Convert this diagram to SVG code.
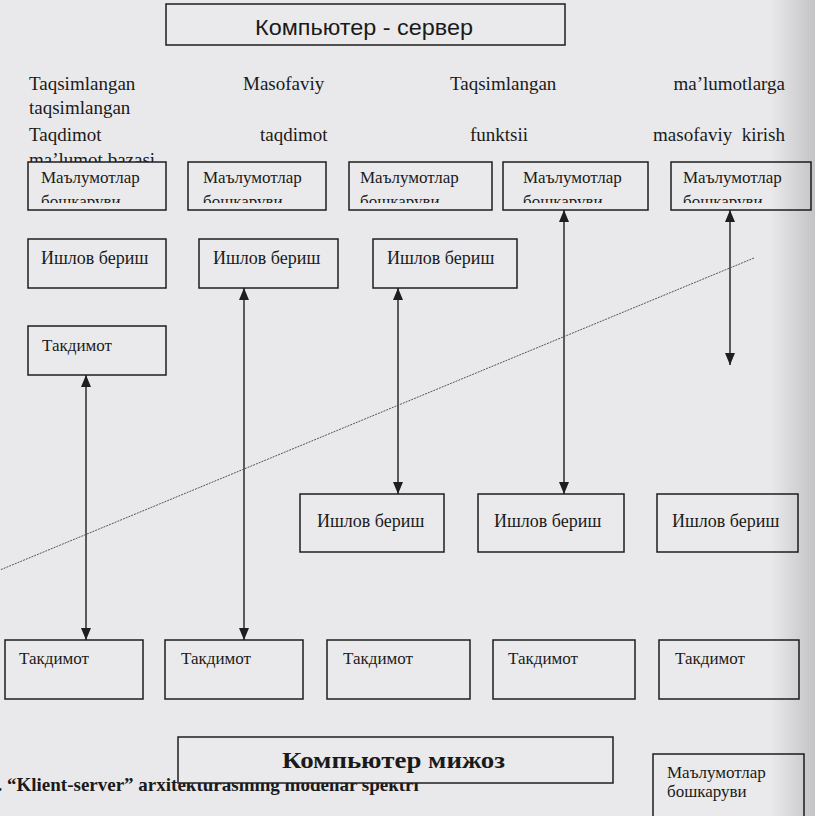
<svg xmlns="http://www.w3.org/2000/svg" width="815" height="816" viewBox="0 0 815 816">
<style>
.bg{fill:#e9e9eb}
.box{fill:#eaeaec;stroke:#1e1e1e;stroke-width:1.5}
.t{font-family:"Liberation Serif","Times New Roman",serif;fill:#1a1a1a}
.top{font-size:19px}
.lbl{font-size:17px}
.lb2{font-size:18px}
.conn{stroke:#1e1e1e;stroke-width:1.4;fill:none}
.diag{stroke:#555;stroke-width:1;stroke-dasharray:2 1;fill:none}
</style>
<defs>
<marker id="ah" viewBox="0 0 12 10" markerUnits="userSpaceOnUse" markerWidth="12" markerHeight="10" refX="12" refY="5" orient="auto-start-reverse">
<path d="M0,0 L12,5 L0,10 z" fill="#1e1e1e"/>
</marker>
<clipPath id="clipTop" clipPathUnits="userSpaceOnUse"><rect x="0" y="150" width="815" height="53"/></clipPath>
<linearGradient id="edge" x1="0" y1="0" x2="1" y2="0">
<stop offset="0" stop-color="#000" stop-opacity="0"/>
<stop offset="1" stop-color="#000" stop-opacity="0.16"/>
</linearGradient>
</defs>
<rect class="bg" x="0" y="0" width="815" height="816"/>

<g id="server">
<rect class="box" x="166" y="4" width="399" height="41"/>
<text x="364" y="35" text-anchor="middle" font-family="Liberation Sans Narrow,Liberation Sans,Arial,sans-serif" font-size="22" fill="#1a1a1a" textLength="218" lengthAdjust="spacingAndGlyphs">Компьютер - сервер</text>
</g>

<g id="labels" class="t top">
<text x="29" y="90">Taqsimlangan</text>
<text x="243" y="90">Masofaviy</text>
<text x="450" y="90">Taqsimlangan</text>
<text x="785" y="90" text-anchor="end">ma’lumotlarga</text>
<text x="29" y="114">taqsimlangan</text>
<text x="29" y="141">Taqdimot</text>
<text x="260" y="141">taqdimot</text>
<text x="470" y="141">funktsii</text>
<text x="785" y="141" text-anchor="end" xml:space="preserve">masofaviy  kirish</text>
<text x="29" y="166">ma’lumot bazasi</text>
</g>

<g id="data1"><rect class="box" x="28" y="162" width="138" height="48"/>
<g clip-path="url(#clipTop)" class="t lbl"><text x="41" y="183">Маълумотлар</text><text x="41" y="207">бошкаруви</text></g></g>
<g id="data2"><rect class="box" x="188" y="162" width="138" height="48"/>
<g clip-path="url(#clipTop)" class="t lbl"><text x="203" y="183">Маълумотлар</text><text x="203" y="207">бошкаруви</text></g></g>
<g id="data3"><rect class="box" x="349" y="162" width="143" height="48"/>
<g clip-path="url(#clipTop)" class="t lbl"><text x="360" y="183">Маълумотлар</text><text x="360" y="207">бошкаруви</text></g></g>
<g id="data4"><rect class="box" x="503" y="162" width="145" height="48"/>
<g clip-path="url(#clipTop)" class="t lbl"><text x="523" y="183">Маълумотлар</text><text x="523" y="207">бошкаруви</text></g></g>
<g id="data5"><rect class="box" x="671" y="162" width="140" height="48"/>
<g clip-path="url(#clipTop)" class="t lbl"><text x="683" y="183">Маълумотлар</text><text x="683" y="207">бошкаруви</text></g></g>

<g id="proc1"><rect class="box" x="28" y="239" width="138" height="49"/><text class="t lb2" x="41" y="264">Ишлов бериш</text></g>
<g id="proc2"><rect class="box" x="199" y="239" width="139" height="49"/><text class="t lb2" x="213" y="264">Ишлов бериш</text></g>
<g id="proc3"><rect class="box" x="373" y="239" width="144" height="49"/><text class="t lb2" x="387" y="264">Ишлов бериш</text></g>

<g id="pres0"><rect class="box" x="28" y="326" width="138" height="49"/><text class="t lbl" x="42" y="351">Такдимот</text></g>

<g id="proc4"><rect class="box" x="300" y="494" width="144" height="58"/><text class="t lb2" x="317" y="527">Ишлов бериш</text></g>
<g id="proc5"><rect class="box" x="478" y="494" width="146" height="58"/><text class="t lb2" x="494" y="527">Ишлов бериш</text></g>
<g id="proc6"><rect class="box" x="657" y="494" width="141" height="58"/><text class="t lb2" x="672" y="527">Ишлов бериш</text></g>

<g id="pres1"><rect class="box" x="5" y="640" width="138" height="59"/><text class="t lbl" x="19" y="664">Такдимот</text></g>
<g id="pres2"><rect class="box" x="165" y="640" width="138" height="59"/><text class="t lbl" x="181" y="664">Такдимот</text></g>
<g id="pres3"><rect class="box" x="327" y="640" width="143" height="59"/><text class="t lbl" x="343" y="664">Такдимот</text></g>
<g id="pres4"><rect class="box" x="493" y="640" width="142" height="59"/><text class="t lbl" x="508" y="664">Такдимот</text></g>
<g id="pres5"><rect class="box" x="659" y="640" width="140" height="59"/><text class="t lbl" x="675" y="664">Такдимот</text></g>

<g id="connectors">
<line class="conn" x1="86" y1="375" x2="86" y2="640" marker-start="url(#ah)" marker-end="url(#ah)"/>
<line class="conn" x1="244" y1="288" x2="244" y2="640" marker-start="url(#ah)" marker-end="url(#ah)"/>
<line class="conn" x1="398" y1="288" x2="398" y2="494" marker-start="url(#ah)" marker-end="url(#ah)"/>
<line class="conn" x1="564" y1="210" x2="564" y2="494" marker-start="url(#ah)" marker-end="url(#ah)"/>
<line class="conn" x1="730" y1="210" x2="730" y2="365" marker-start="url(#ah)" marker-end="url(#ah)"/>
<line class="diag" x1="754" y1="258" x2="0" y2="570"/>
</g>

<text class="t" x="-12" y="791" font-size="19" font-weight="bold">2. “Klient-server” arxitekturasining modellar spektri</text>

<g id="client"><rect class="box" x="178" y="737" width="435" height="46"/>
<text class="t" x="282" y="768" font-size="24" font-weight="bold" textLength="223" lengthAdjust="spacingAndGlyphs">Компьютер мижоз</text></g>

<g id="data-bottom"><rect class="box" x="653" y="754" width="151" height="70"/>
<text class="t lbl" x="667" y="778">Маълумотлар</text><text class="t lbl" x="667" y="797">бошкаруви</text></g>

<rect x="770" y="0" width="45" height="816" fill="url(#edge)"/>
</svg>
